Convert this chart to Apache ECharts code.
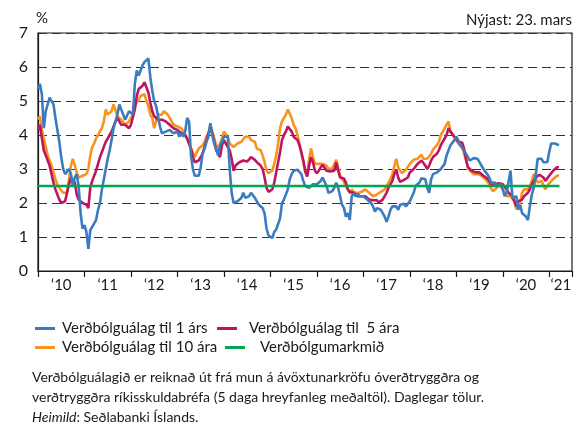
<!DOCTYPE html>
<html>
<head>
<meta charset="utf-8">
<script src="https://cdn.jsdelivr.net/npm/echarts@6/dist/echarts.min.js"></script>
<style>
  html, body { margin: 0; padding: 0; background: #fff; }
  #chart { width: 580px; height: 425px; }
</style>
</head>
<body>
<div id="chart"></div>
<script>
// hálfsmánaðarleg gildi (24 á ári) frá byrjun 2010 til 23. mars 2021
var startYear = 2010;
var stepsPerYear = 24;
var lastDate = 2021.22;
var axisEnd = 2021.49;
var target = 2.5;

var yearTicks = [2010, 2011, 2012, 2013, 2014, 2015, 2016, 2017, 2018, 2019, 2020, 2021, axisEnd];
var yearLabelPos = [2010.5, 2011.5, 2012.5, 2013.5, 2014.5, 2015.5, 2016.5, 2017.5, 2018.5, 2019.5, 2020.5, 2021.25];

var names = ["Verðbólguálag til 1 árs", "Verðbólguálag til  5 ára", "Verðbólguálag til 10 ára", "Verðbólgumarkmið"];

var til1 = [
  5.35, 5.5, 5.2, 4.2, 4.7, 4.75, 5.1, 5.05, 4.9, 4.5, 4.15, 3.8, 3.35, 3.0, 2.85, 2.9, 3.0, 2.85, 2.5, 2.75, 2.85, 2.5, 1.7, 1.25,
  1.35, 1.15, 0.65, 1.2, 1.3, 1.3, 1.5, 1.8, 2.0, 2.4, 2.7, 3.0, 3.3, 3.55, 3.85, 4.2, 4.4, 4.6, 4.9, 4.85, 4.6, 4.45, 4.5, 4.7,
  4.65, 4.6, 5.5, 5.9, 5.75, 5.75, 6.05, 6.15, 6.2, 6.25, 5.7, 5.3, 5.0, 4.85, 4.55, 4.25, 4.05, 4.0, 4.1, 4.15, 4.15, 4.1, 4.05, 4.05,
  4.1, 3.95, 4.05, 3.95, 4.1, 4.5, 4.4, 3.4, 3.0, 2.8, 2.75, 2.8, 3.05, 3.45, 3.6, 3.8, 3.95, 4.35, 4.0, 3.75, 3.6, 3.4, 3.7, 3.8,
  3.95, 4.0, 3.95, 3.0, 2.3, 2.0, 1.98, 2.05, 2.1, 2.15, 2.3, 2.15, 2.15, 2.2, 2.3, 2.25, 2.15, 2.1, 1.95, 1.9, 1.85, 1.7, 1.25, 1.05,
  1.02, 0.97, 1.15, 1.22, 1.25, 1.55, 2.0, 2.1, 2.15, 2.4, 2.7, 2.85, 2.95, 2.9, 2.98, 2.95, 2.85, 2.65, 2.5, 2.5, 2.45, 2.5, 2.55, 2.55,
  2.55, 2.6, 2.65, 2.75, 2.75, 2.5, 2.3, 2.3, 2.35, 2.45, 2.6, 2.45, 2.2, 1.95, 1.85, 1.6, 1.7, 1.5, 2.2, 2.28, 2.2, 2.28, 2.2, 2.15,
  2.2, 2.15, 2.1, 2.05, 2.0, 1.9, 1.75, 1.85, 1.9, 1.8, 1.7, 1.6, 1.45, 1.6, 1.8, 1.9, 1.85, 1.9, 1.8, 1.95, 2.0, 1.98, 1.9, 1.92,
  2.05, 2.0, 2.3, 2.5, 2.45, 2.6, 2.73, 2.7, 2.7, 2.45, 2.3, 2.7, 2.85, 2.88, 2.9, 2.95, 3.0, 3.05, 3.15, 3.4, 3.55, 3.7, 3.75, 3.85,
  3.95, 3.85, 3.7, 3.65, 3.55, 3.5, 3.35, 3.25, 3.3, 3.32, 3.35, 3.3, 3.2, 3.1, 3.0, 3.05, 2.85, 2.75, 2.6, 2.55, 2.6, 2.5, 2.52, 2.55,
  2.4, 2.2, 2.3, 2.3, 2.95, 2.15, 2.1, 2.2, 1.8, 1.95, 1.7, 1.75, 1.6, 1.5, 1.9, 2.25, 2.45, 2.8, 3.3, 3.35, 3.3, 3.2, 3.2, 3.2,
  3.5, 3.75, 3.78, 3.75, 3.72, 3.7
];

var til5 = [
  4.15, 4.3, 3.9, 3.55, 3.4, 3.25, 3.1, 2.85, 2.6, 2.4, 2.25, 2.1, 2.0, 1.95, 2.05, 2.3, 2.55, 2.75, 2.75, 2.6, 2.25, 2.1, 2.05, 2.0,
  2.05, 1.95, 1.85, 2.45, 2.65, 2.8, 2.95, 3.15, 3.35, 3.5, 3.65, 3.8, 3.9, 4.0, 4.1, 4.15, 4.4, 4.5, 4.4, 4.3, 4.3, 4.3, 4.25, 4.2,
  4.3, 4.35, 4.75, 5.15, 5.35, 5.4, 5.45, 5.55, 5.5, 5.25, 4.95, 4.7, 4.55, 4.5, 4.45, 4.45, 4.45, 4.45, 4.4, 4.35, 4.3, 4.25, 4.2, 4.15,
  4.15, 4.1, 4.05, 4.05, 4.0, 3.9, 3.85, 3.6, 3.35, 3.2, 3.15, 3.25, 3.35, 3.45, 3.65, 3.85, 4.05, 4.2, 4.05, 3.8, 3.55, 3.45, 3.35, 3.7,
  3.85, 3.75, 3.8, 3.55, 3.3, 2.95, 3.1, 3.15, 3.2, 3.2, 3.25, 3.2, 3.22, 3.27, 3.35, 3.32, 3.27, 3.2, 3.2, 3.1, 3.0, 2.75, 2.45, 2.33,
  2.32, 2.4, 2.6, 2.9, 3.2, 3.5, 3.85, 4.0, 4.1, 4.25, 4.3, 4.1, 3.95, 3.9, 3.85, 3.7, 3.5, 3.25, 2.95, 2.78, 3.1, 3.35, 3.2, 2.95,
  2.88, 2.95, 3.05, 3.12, 3.15, 2.95, 2.9, 2.93, 2.93, 2.95, 3.2, 2.95, 2.75, 2.7, 2.72, 2.6, 2.4, 2.32, 2.35, 2.3, 2.3, 2.2, 2.17, 2.2,
  2.2, 2.2, 2.15, 2.1, 2.05, 2.08, 2.05, 2.08, 2.02, 2.0, 2.1, 2.15, 2.3, 2.45, 2.55, 2.65, 2.85, 2.98, 2.75, 2.62, 2.65, 2.68, 2.68, 2.75,
  2.9, 2.95, 3.0, 3.05, 3.15, 3.2, 3.25, 3.18, 3.1, 3.0, 3.1, 3.25, 3.35, 3.37, 3.45, 3.55, 3.7, 3.8, 3.85, 4.0, 4.2, 4.1, 4.15, 3.95,
  3.9, 3.8, 3.75, 3.78, 3.6, 3.3, 3.05, 3.0, 2.95, 2.98, 2.9, 2.88, 2.9, 2.85, 2.8, 2.78, 2.72, 2.65, 2.55, 2.52, 2.55, 2.5, 2.58, 2.6,
  2.55, 2.48, 2.4, 2.3, 2.3, 2.2, 2.05, 1.9, 2.05, 2.0, 2.1, 2.2, 2.15, 2.3, 2.4, 2.55, 2.6, 2.75, 2.8, 2.83, 2.8, 2.75, 2.65, 2.7,
  2.8, 2.85, 2.95, 3.0, 3.05, 3.05
];

var til10 = [
  4.45, 4.55, 4.15, 3.9, 3.65, 3.4, 3.25, 3.1, 2.9, 2.7, 2.55, 2.45, 2.4, 2.3, 2.25, 2.3, 2.7, 3.1, 3.3, 3.25, 2.9, 2.75, 2.75, 2.8,
  2.78, 2.85, 3.0, 3.4, 3.65, 3.75, 3.9, 4.0, 4.05, 4.2, 4.4, 4.75, 4.6, 4.65, 4.7, 4.9, 4.95, 4.55, 4.5, 4.45, 4.4, 4.3, 4.3, 4.4,
  4.5, 4.6, 4.85, 4.95, 5.05, 5.15, 5.2, 5.2, 5.0, 4.85, 4.6, 4.5, 4.2, 4.4, 4.6, 4.65, 4.6, 4.7, 4.7, 4.6, 4.5, 4.4, 4.3, 4.25,
  4.25, 4.2, 4.2, 4.1, 4.0, 3.95, 3.75, 3.6, 3.55, 3.35, 3.5, 3.6, 3.55, 3.7, 3.8, 3.95, 4.05, 4.3, 4.1, 3.9, 3.7, 3.6, 3.6, 3.9,
  4.1, 4.1, 3.95, 3.75, 3.7, 3.65, 3.7, 3.75, 3.7, 3.8, 3.85, 3.95, 3.92, 3.95, 3.85, 3.9, 3.8, 3.6, 3.6, 3.55, 3.4, 3.2, 2.95, 2.88,
  2.9, 2.95, 3.15, 3.4, 3.75, 4.2, 4.4, 4.5, 4.6, 4.75, 4.75, 4.5, 4.3, 4.2, 4.0, 3.75, 3.45, 3.2, 2.9, 2.8, 3.3, 3.6, 3.35, 3.15,
  3.12, 3.15, 3.2, 3.15, 3.15, 3.1, 3.0, 3.02, 3.02, 3.05, 3.27, 3.05, 2.8, 2.75, 2.62, 2.5, 2.4, 2.3, 2.4, 2.33, 2.32, 2.28, 2.25, 2.33,
  2.3, 2.4, 2.42, 2.3, 2.25, 2.2, 2.17, 2.25, 2.3, 2.33, 2.3, 2.4, 2.45, 2.6, 2.7, 2.85, 3.08, 3.3, 3.05, 2.95, 2.88, 2.92, 2.98, 3.02,
  3.15, 3.2, 3.27, 3.25, 3.3, 3.35, 3.42, 3.3, 3.3, 3.3, 3.32, 3.45, 3.57, 3.6, 3.7, 3.8, 4.0, 4.1, 4.15, 4.3, 4.4, 4.1, 4.05, 3.95,
  3.85, 3.75, 3.7, 3.65, 3.45, 3.25, 3.05, 2.95, 2.9, 2.85, 2.9, 2.85, 2.9, 2.8, 2.75, 2.7, 2.65, 2.55, 2.42, 2.35, 2.38, 2.45, 2.55, 2.6,
  2.4, 2.3, 2.2, 2.15, 2.2, 2.2, 2.05, 1.82, 1.8, 2.0, 2.3, 2.4, 2.45, 2.4, 2.5, 2.65, 2.85, 2.75, 2.6, 2.58, 2.65, 2.6, 2.4, 2.5,
  2.58, 2.62, 2.7, 2.75, 2.8, 2.83
];

var FONT = "Lato";
var TXT = "#1a1a1a";

function toPoints(arr) {
  return arr.map(function (v, i) {
    return [startYear + i / stepsPerYear, v];
  });
}

function lineSeries(name, data, color) {
  return {
    name: name,
    type: "line",
    data: data,
    color: color,
    showSymbol: false,
    symbol: "none",
    lineStyle: { width: 2.6, color: color },
    emphasis: { disabled: true }
  };
}

function legendAt(name, left, top, gap) {
  return {
    data: [name],
    left: left,
    top: top,
    icon: "rect",
    itemWidth: 20,
    itemHeight: 3,
    selectedMode: false,
    textStyle: { fontFamily: FONT, fontSize: 15, color: TXT, padding: [0, 0, 0, gap] }
  };
}

var chart = echarts.init(document.getElementById("chart"), null, { renderer: "canvas" });

var option = {
  animation: false,
  backgroundColor: "#fff",
  grid: {
    left: 38,
    right: 8,
    top: 33,
    bottom: 154,
    show: true,
    borderColor: "#1a1a1a",
    borderWidth: 1.2
  },
  title: {
    left: 32,
    top: 367,
    padding: 0,
    text: "Verðbólguálagið er reiknað út frá mun á ávöxtunarkröfu óverðtryggðra og\n" +
      "verðtryggðra ríkisskuldabréfa (5 daga hreyfanleg meðaltöl). Daglegar tölur.\n" +
      "{i|Heimild}: Seðlabanki Íslands.",
    textStyle: {
      fontFamily: FONT,
      fontSize: 14,
      fontWeight: "normal",
      color: TXT,
      lineHeight: 20,
      rich: {
        i: { fontFamily: FONT, fontSize: 14, fontStyle: "italic", color: TXT, lineHeight: 20 }
      }
    }
  },
  legend: [
    legendAt(names[0], 30, 316, 2),
    legendAt(names[1], 212, 316, 7),
    legendAt(names[2], 30, 335, 2),
    legendAt(names[3], 220, 335, 10)
  ],
  graphic: [
    {
      type: "text",
      left: 36,
      top: 11,
      style: { text: "%", font: "15px " + FONT, fill: TXT }
    },
    {
      type: "text",
      right: 8,
      top: 13,
      style: { text: "Nýjast: 23. mars", font: "15px " + FONT, fill: TXT }
    }
  ],
  xAxis: {
    type: "value",
    min: startYear,
    max: axisEnd,
    axisLine: { show: true, lineStyle: { color: "#1a1a1a", width: 1.2 } },
    axisTick: {
      show: true,
      inside: false,
      length: 6,
      customValues: yearTicks,
      lineStyle: { color: "#1a1a1a", width: 1.2 }
    },
    axisLabel: {
      customValues: yearLabelPos,
      margin: 7,
      fontFamily: FONT,
      fontSize: 15,
      color: TXT,
      formatter: function (v) {
        return "\u2018" + String(Math.floor(v)).slice(2);
      }
    },
    splitLine: { show: false }
  },
  yAxis: {
    type: "value",
    min: 0,
    max: 7,
    interval: 1,
    axisLine: { show: true, lineStyle: { color: "#1a1a1a", width: 1.2 } },
    axisTick: { show: false },
    axisLabel: { margin: 10, fontFamily: FONT, fontSize: 16, color: TXT },
    splitLine: { show: true, lineStyle: { color: "#333", width: 1.2, type: [9, 5] } }
  },
  series: [
    lineSeries(names[2], toPoints(til10), "#f7941d"),
    lineSeries(names[1], toPoints(til5), "#c0145e"),
    lineSeries(names[0], toPoints(til1), "#3b7bc0"),
    lineSeries(names[3], [[startYear, target], [lastDate, target]], "#00a651")
  ]
};

chart.setOption(option);
</script>
</body>
</html>
